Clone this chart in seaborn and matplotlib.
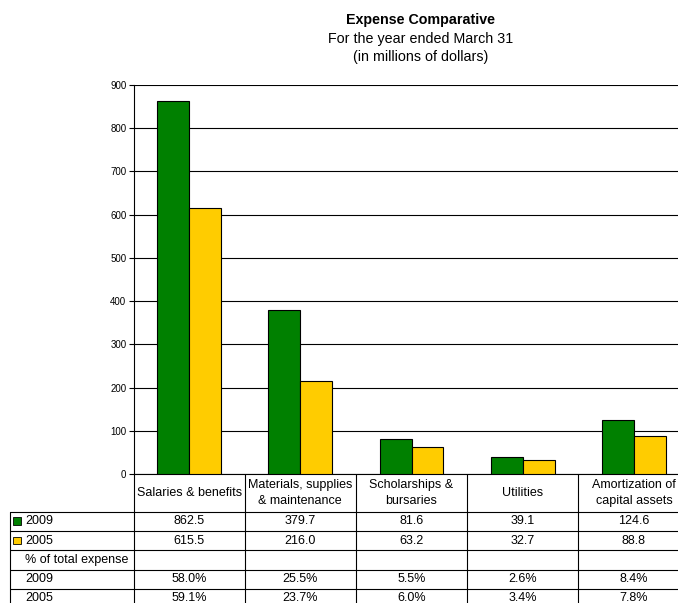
import matplotlib
matplotlib.use("Agg")
import matplotlib.pyplot as plt
from matplotlib.lines import Line2D
from matplotlib.patches import Rectangle
import pandas as pd
import seaborn as sns

# ---- data -------------------------------------------------------------
categories = [
    "Salaries & benefits",
    "Materials, supplies\n& maintenance",
    "Scholarships &\nbursaries",
    "Utilities",
    "Amortization of\ncapital assets",
]
years = ["2009", "2005"]
values_2009 = [862.5, 379.7, 81.6, 39.1, 124.6]
values_2005 = [615.5, 216.0, 63.2, 32.7, 88.8]
share_2009 = [58.0, 25.5, 5.5, 2.6, 8.4]
share_2005 = [59.1, 23.7, 6.0, 3.4, 7.8]
colors = ["#008000", "#FFCC00"]
yticks = list(range(0, 901, 100))

# ---- figure -----------------------------------------------------------
W, H = 678, 603
sns.set_theme(style="white")
plt.rcParams["font.family"] = ["Liberation Sans", "DejaVu Sans"]

fig = plt.figure(figsize=(W / 100, H / 100), dpi=100)
fig.patch.set_facecolor("white")


def fx(x):
    return x / W


def fy(y):
    return 1 - y / H


# plot area (extends past the right edge of the page)
X0, X1 = 133.5, 689.5
Y0, Y1 = 474, 85
ax = fig.add_axes([fx(X0), fy(Y0), (X1 - X0) / W, (Y0 - Y1) / H])

df = pd.DataFrame({
    "category": categories * 2,
    "year": [years[0]] * len(categories) + [years[1]] * len(categories),
    "value": values_2009 + values_2005,
})
sns.barplot(data=df, x="category", y="value", hue="year", hue_order=years,
            palette=colors, saturation=1, width=0.575, gap=0,
            edgecolor="black", linewidth=0.8, errorbar=None, legend=False,
            ax=ax, zorder=3)

ax.set_ylim(0, 900)
ax.set_xlim(-0.5, len(categories) - 0.5)
ax.set_yticks(yticks)
ax.set_yticklabels([str(t) for t in yticks])
ax.set_xticks([])
ax.set_xlabel("")
ax.set_ylabel("")
ax.yaxis.grid(True, color="black", linewidth=0.8)
ax.set_axisbelow(True)
ax.tick_params(axis="y", direction="out", length=3.6, width=0.8,
               colors="black", labelsize=7, pad=1.5, left=True)
for side in ("top", "right"):
    ax.spines[side].set_visible(False)
for side in ("left", "bottom"):
    ax.spines[side].set_color("black")
    ax.spines[side].set_linewidth(0.8)
ax.set_facecolor("white")

# ---- titles -----------------------------------------------------------
tx = 421
fig.text(fx(tx), fy(20), "Expense Comparative", ha="center", va="center",
         fontsize=10.3, fontweight="bold", color="black")
fig.text(fx(tx), fy(38.5), "For the year ended March 31", ha="center",
         va="center", fontsize=10.3, color="black")
fig.text(fx(tx), fy(57), "(in millions of dollars)", ha="center",
         va="center", fontsize=10.3, color="black")

# ---- data table -------------------------------------------------------
LW = 0.8
col_w = (X1 - X0) / len(categories)
bounds = [X0 + i * col_w for i in range(len(categories) + 1)]
centers = [X0 + (i + 0.5) * col_w for i in range(len(categories))]
row_lines = [511.5, 531, 550, 569.5, 588.5]
TL = 10


def hline(y, xa, xb):
    fig.add_artist(Line2D([fx(xa), fx(xb)], [fy(y), fy(y)],
                          transform=fig.transFigure, color="black", lw=LW))


def vline(x, ya, yb):
    fig.add_artist(Line2D([fx(x), fx(x)], [fy(ya), fy(yb)],
                          transform=fig.transFigure, color="black", lw=LW))


for y in row_lines:
    hline(y, TL, W + 5)
vline(TL, row_lines[0], H + 5)
for b in bounds[:-1]:
    vline(b, Y0, H + 5)

FS = 9
# column headers
for cx, name in zip(centers, categories):
    fig.text(fx(cx), fy(493), name, ha="center", va="center",
             fontsize=FS, color="black", linespacing=1.45)

row_centers = [521.3, 540.5, 559.8, 579, 598.2]
row_labels = ["2009", "2005", "% of total expense", "2009", "2005"]
for yc, lab in zip(row_centers, row_labels):
    fig.text(fx(25), fy(yc), lab, ha="left", va="center", fontsize=FS,
             color="black")

# legend keys in the first two rows
for yc, c in zip(row_centers[:2], colors):
    fig.add_artist(Rectangle((fx(13), fy(yc + 3.8)), 8 / W, 7.6 / H,
                             transform=fig.transFigure, facecolor=c,
                             edgecolor="black", lw=0.6))

rows = [
    [f"{v:.1f}" for v in values_2009],
    [f"{v:.1f}" for v in values_2005],
    ["" for _ in categories],
    [f"{v:.1f}%" for v in share_2009],
    [f"{v:.1f}%" for v in share_2005],
]
for yc, row in zip(row_centers, rows):
    for cx, txt in zip(centers, row):
        fig.text(fx(cx), fy(yc), txt, ha="center", va="center",
                 fontsize=FS, color="black")

fig.savefig("out.png", dpi=100, facecolor="white")
